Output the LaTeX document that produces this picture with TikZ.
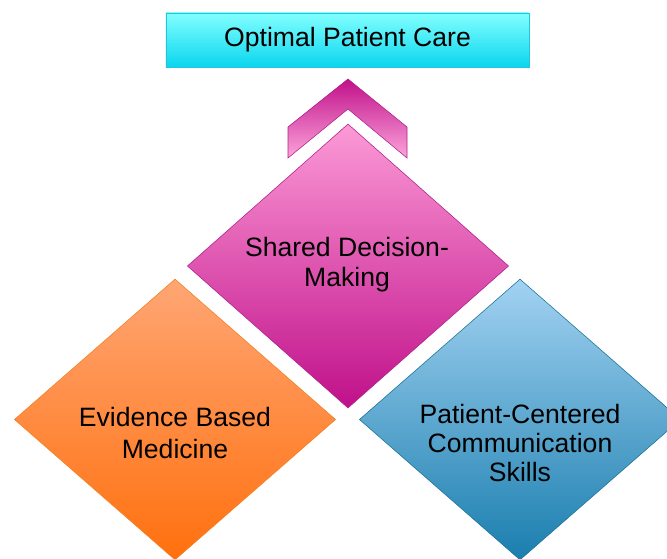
\documentclass[tikz,border=0pt]{standalone}
\usepackage{fontspec}
\setmainfont{Liberation Sans}
\usetikzlibrary{shapes.geometric}
\definecolor{goaltop}{HTML}{82FFFF}
\definecolor{goalbot}{HTML}{0AD6EE}
\definecolor{goalline}{HTML}{22C4D6}
\definecolor{sdmtop}{HTML}{FC9AD6}
\definecolor{sdmbot}{HTML}{C0108A}
\definecolor{sdmline}{HTML}{B0208E}
\definecolor{ebmtop}{HTML}{FFA674}
\definecolor{ebmbot}{HTML}{FF700E}
\definecolor{ebmline}{HTML}{F08224}
\definecolor{pcctop}{HTML}{A2D2F2}
\definecolor{pccbot}{HTML}{1A7EAE}
\definecolor{pccline}{HTML}{1C7494}
\begin{document}
\begin{tikzpicture}[x = 0.025cm, y = -0.025cm,
  dmd/.style = {diamond, minimum width = 8.03cm, minimum height = 7.1cm, inner sep = 0pt},
  lbl/.style = {align = center, inner sep = 0pt, font = \fontsize{18.9}{21.5}\selectfont}]
\useasboundingbox (0,0) rectangle (667,559);
\node[draw = goalline, top color = goaltop, bottom color = goalbot, minimum width = 9.075cm,
  minimum height = 1.35cm, inner sep = 0pt, font = \fontsize{18.9}{21.5}\selectfont] (care) at (347.5,40) {Optimal Patient Care};
% chevron pointing up
\draw[sdmline, top color = sdmbot, bottom color = sdmtop!90!white]
  (288,127) -- (348,79) -- (407,127) -- (407,158) -- (348,109) -- (288,158) -- cycle;
\node[dmd, draw = sdmline, top color = sdmtop, bottom color = sdmbot] (sdm) at (348,266) {};
\node[dmd, minimum height = 7.02cm, draw = ebmline, top color = ebmtop, bottom color = ebmbot] (ebm) at (175,419.5) {};
\node[dmd, minimum height = 7.02cm, draw = pccline, top color = pcctop, bottom color = pccbot] (pcc) at (520,419.5) {};
\node[lbl] (sdmtxt) at (347,265) {Shared Decision-\\Making};
\node[lbl, font = \fontsize{18.9}{22.7}\selectfont] (ebmtxt) at (175,433) {Evidence Based\\Medicine};
\node[lbl, font = \fontsize{18.9}{20.6}\selectfont] (pcctxt) at (520,443) {Patient-Centered\\Communication\\Skills};
\end{tikzpicture}
\end{document}
